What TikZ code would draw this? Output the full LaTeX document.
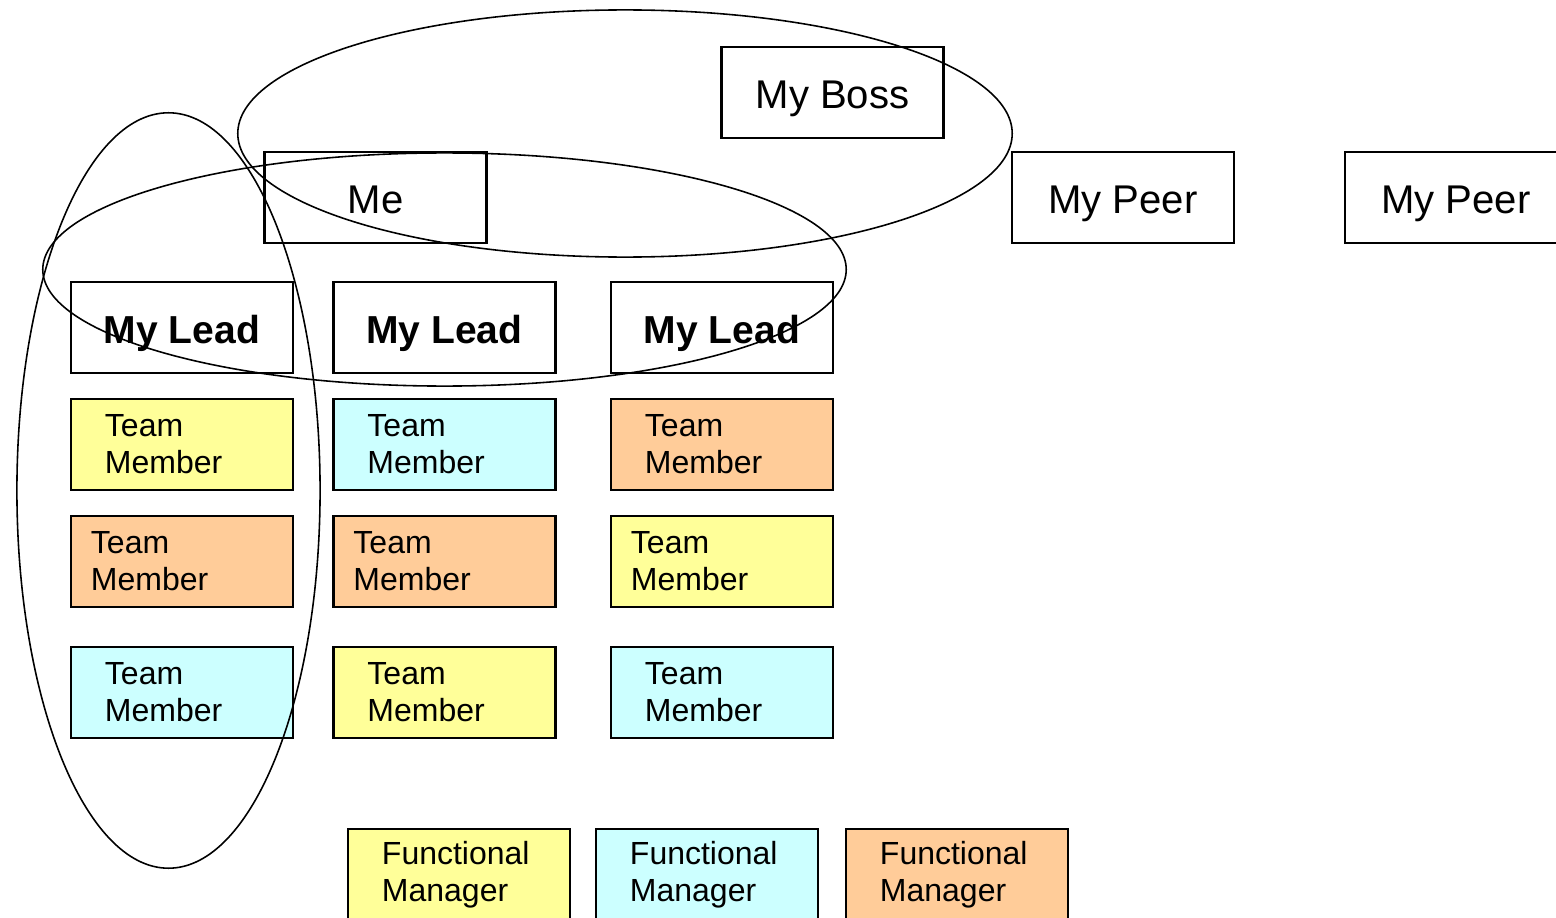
\documentclass[tikz,border=0pt]{standalone}
\usepackage{fontspec}
\setmainfont{Liberation Sans}

\definecolor{tmyellow}{HTML}{FFFF99}
\definecolor{tmblue}{HTML}{CCFFFF}
\definecolor{tmorange}{HTML}{FFCC99}

\tikzset{
    rolebox/.style={draw, line width=0.65pt, fill=white, minimum width=2.22cm, minimum height=0.91cm, inner sep=0pt, text height=0.31cm, text depth=0pt, font=\fontsize{11.4}{13}\selectfont},
    leadbox/.style={rolebox, font=\fontsize{11.1}{13}\selectfont\bfseries},
    teambox/.style={draw, line width=0.65pt, minimum width=2.22cm, minimum height=0.91cm, inner ysep=0pt, inner xsep=0.34cm, text width=1.54cm, align=left, font=\fontsize{9.1}{10.5}\selectfont},
    teamboxw/.style={teambox, inner xsep=0.2cm, text width=1.82cm},
    circle group/.style={line width=0.45pt},
}

\begin{document}
\begin{tikzpicture}[x=0.01cm, y=-0.01cm]
    \useasboundingbox (0,0) rectangle (1556,918);

    \node[rolebox] (boss) at (832.5, 92.5) {My Boss};
    \node[rolebox] (me) at (375.5, 197.5) {Me};
    \node[rolebox] (peerA) at (1123, 197.5) {My Peer};
    \node[rolebox] (peerB) at (1456, 197.5) {My Peer};

    \node[leadbox] (leadA) at (182, 327.5) {My Lead};
    \node[leadbox] (leadB) at (444.5, 327.5) {My Lead};
    \node[leadbox] (leadC) at (722, 327.5) {My Lead};

    \node[teambox, fill=tmyellow] (memberA1) at (182, 444.5) {Team\\Member};
    \node[teambox, fill=tmblue] (memberB1) at (444.5, 444.5) {Team\\Member};
    \node[teambox, fill=tmorange] (memberC1) at (722, 444.5) {Team\\Member};

    \node[teamboxw, fill=tmorange] (memberA2) at (182, 561.5) {Team\\Member};
    \node[teamboxw, fill=tmorange] (memberB2) at (444.5, 561.5) {Team\\Member};
    \node[teamboxw, fill=tmyellow] (memberC2) at (722, 561.5) {Team\\Member};

    \node[teambox, fill=tmblue] (memberA3) at (182, 692.5) {Team\\Member};
    \node[teambox, fill=tmyellow] (memberB3) at (444.5, 692.5) {Team\\Member};
    \node[teambox, fill=tmblue] (memberC3) at (722, 692.5) {Team\\Member};

    \node[teambox, fill=tmyellow] (funcA) at (459, 874.5) {Functional\\Manager};
    \node[teambox, fill=tmblue] (funcB) at (707, 874.5) {Functional\\Manager};
    \node[teambox, fill=tmorange] (funcC) at (957, 874.5) {Functional\\Manager};

    % the three circles of people
    \draw[circle group] (625, 133.5) ellipse [x radius=3.87cm, y radius=1.235cm];
    \draw[circle group] (444.5, 269.5) ellipse [x radius=4.015cm, y radius=1.165cm];
    \draw[circle group] (168.5, 490.5) ellipse [x radius=1.515cm, y radius=3.775cm];

\end{tikzpicture}
\end{document}
